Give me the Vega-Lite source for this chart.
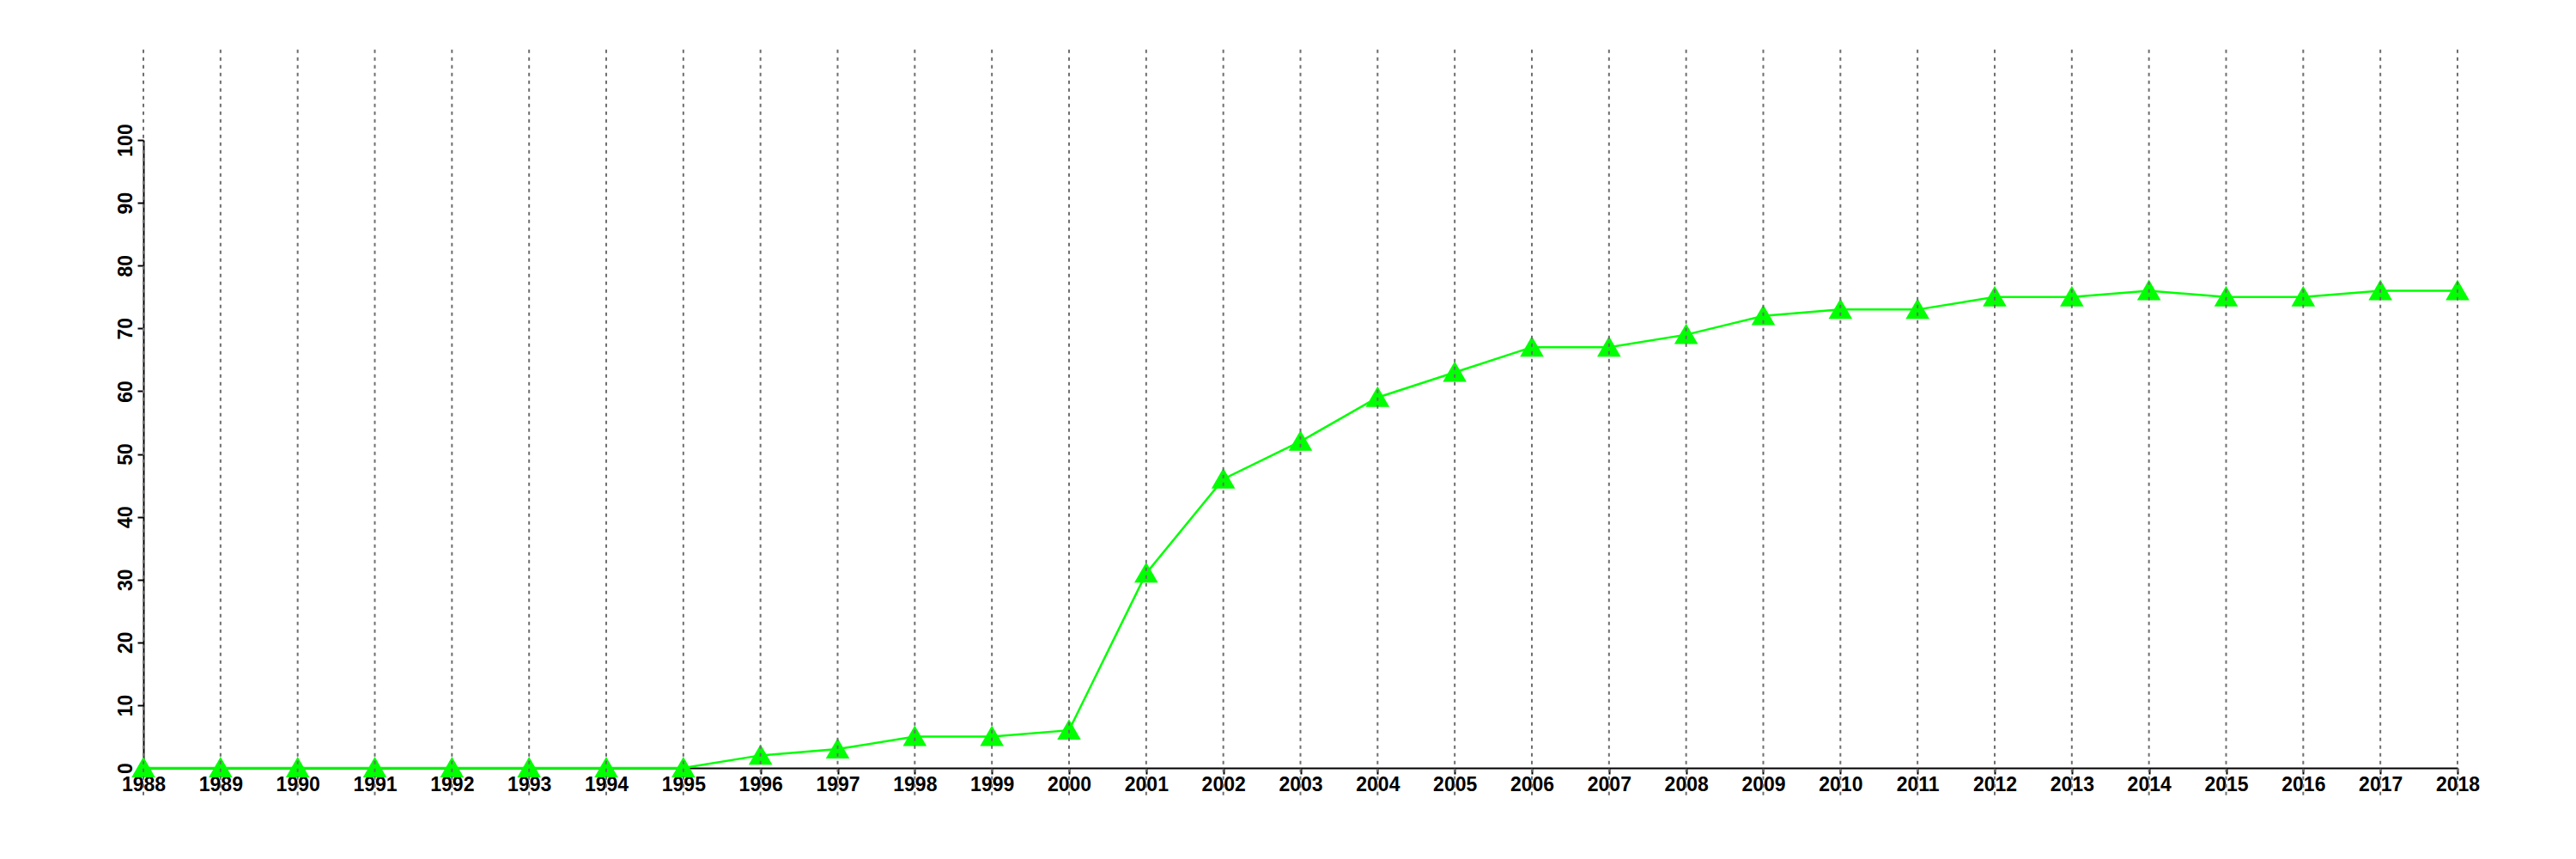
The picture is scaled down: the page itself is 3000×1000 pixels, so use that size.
{
  "$schema": "https://vega.github.io/schema/vega-lite/v6.json",
  "width": 2695,
  "height": 731,
  "autosize": {"type": "none"},
  "padding": {"left": 167, "top": 163, "right": 138, "bottom": 106},
  "background": "white",
  "config": {
    "view": {"stroke": null},
    "font": "Liberation Sans",
    "axis": {
      "grid": false,
      "domainColor": "black",
      "domainWidth": 2,
      "tickColor": "black",
      "tickWidth": 2,
      "tickSize": 7,
      "labelFont": "Liberation Sans",
      "labelFontWeight": "bold",
      "labelFontSize": 23,
      "labelColor": "black",
      "title": null
    }
  },
  "data": {
    "values": [
      {"year": 1988, "value": 0},
      {"year": 1989, "value": 0},
      {"year": 1990, "value": 0},
      {"year": 1991, "value": 0},
      {"year": 1992, "value": 0},
      {"year": 1993, "value": 0},
      {"year": 1994, "value": 0},
      {"year": 1995, "value": 0},
      {"year": 1996, "value": 2},
      {"year": 1997, "value": 3},
      {"year": 1998, "value": 5},
      {"year": 1999, "value": 5},
      {"year": 2000, "value": 6},
      {"year": 2001, "value": 31},
      {"year": 2002, "value": 46},
      {"year": 2003, "value": 52},
      {"year": 2004, "value": 59},
      {"year": 2005, "value": 63},
      {"year": 2006, "value": 67},
      {"year": 2007, "value": 67},
      {"year": 2008, "value": 69},
      {"year": 2009, "value": 72},
      {"year": 2010, "value": 73},
      {"year": 2011, "value": 73},
      {"year": 2012, "value": 75},
      {"year": 2013, "value": 75},
      {"year": 2014, "value": 76},
      {"year": 2015, "value": 75},
      {"year": 2016, "value": 75},
      {"year": 2017, "value": 76},
      {"year": 2018, "value": 76}
    ]
  },
  "layer": [
    {
      "mark": {"type": "line", "color": "#00ff00", "strokeWidth": 2.5},
      "encoding": {
        "x": {
          "field": "year",
          "type": "quantitative",
          "scale": {"domain": [1988, 2018], "nice": false, "zero": false},
          "axis": {
            "values": [1988,1989,1990,1991,1992,1993,1994,1995,1996,1997,1998,1999,2000,2001,2002,2003,2004,2005,2006,2007,2008,2009,2010,2011,2012,2013,2014,2015,2016,2017,2018],
            "format": "d",
            "labelBaseline": "top",
            "labelPadding": 1,
            "labelFlush": false,
            "labelOverlap": false
          }
        },
        "y": {
          "field": "value",
          "type": "quantitative",
          "scale": {"domain": [0, 100], "nice": false},
          "axis": {
            "values": [0,10,20,30,40,50,60,70,80,90,100],
            "labelAngle": -90,
            "labelAlign": "center",
            "labelBaseline": "alphabetic",
            "labelPadding": 7,
            "labelFlush": false,
            "labelOverlap": false
          }
        }
      }
    },
    {
      "mark": {"type": "point", "shape": "triangle-up", "filled": true, "color": "#00ff00", "opacity": 1, "size": 760, "yOffset": -1},
      "encoding": {
        "x": {"field": "year", "type": "quantitative"},
        "y": {"field": "value", "type": "quantitative"}
      }
    },
    {
      "mark": {"type": "rule", "color": "#6e6e6e", "strokeWidth": 2, "strokeDash": [4, 5]},
      "encoding": {
        "x": {"field": "year", "type": "quantitative"},
        "y": {"datum": 114.4},
        "y2": {"datum": -4.5}
      }
    }
  ]
}
